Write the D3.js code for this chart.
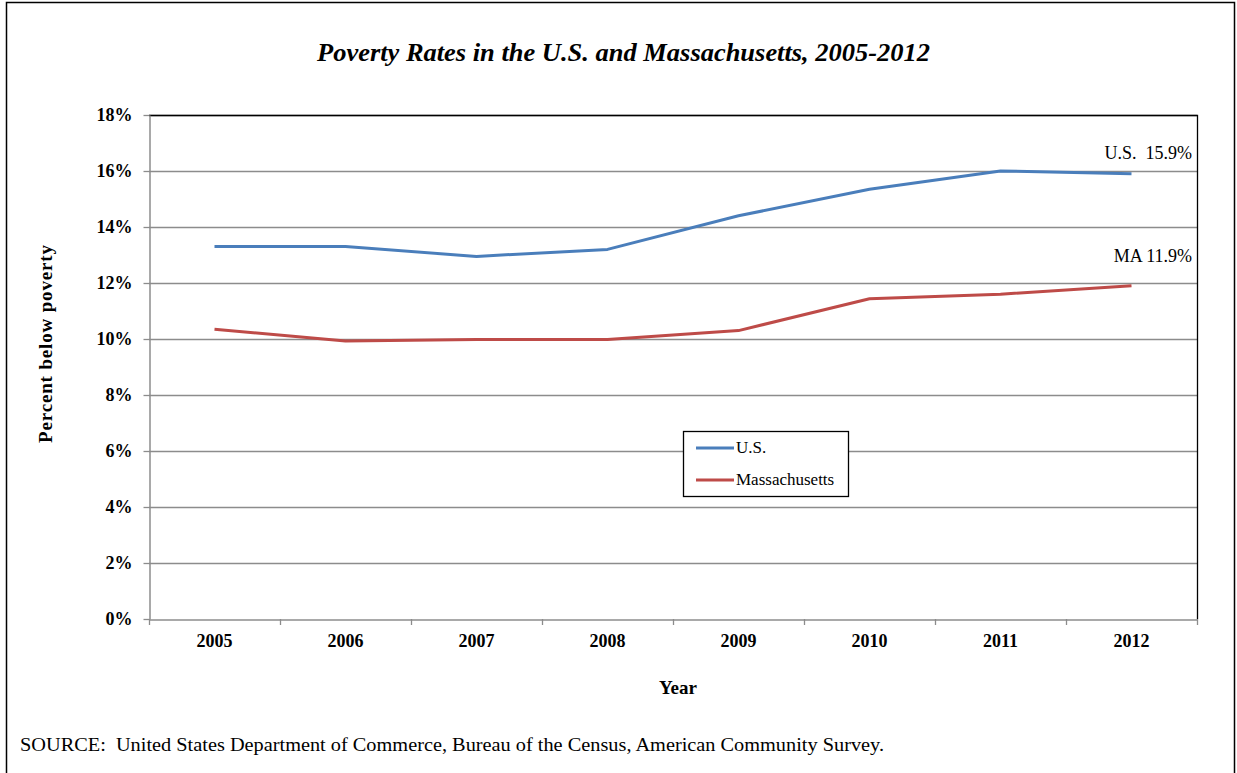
<!DOCTYPE html>
<html>
<head>
<meta charset="utf-8">
<script src="https://cdn.jsdelivr.net/npm/d3@7"></script>
<style>
  html, body { margin: 0; padding: 0; background: #fff; }
  svg { display: block; }
  text { font-family: "Liberation Serif", "Times New Roman", serif; fill: #000; }
</style>
</head>
<body>
<script>
const years = ["2005", "2006", "2007", "2008", "2009", "2010", "2011", "2012"];
const usValues = [13.3, 13.3, 12.95, 13.2, 14.4, 15.35, 16.0, 15.9];
const maValues = [10.35, 9.93, 9.98, 9.98, 10.3, 11.44, 11.6, 11.9];
const yTicks = [0, 2, 4, 6, 8, 10, 12, 14, 16, 18];
const seriesNames = ["U.S.", "Massachusetts"];
const seriesColors = ["#4a7ebb", "#be4b48"];
const endLabels = ["U.S.  15.9%", "MA 11.9%"];

const W = 1237, H = 773;
const plot = { left: 149, right: 1197, top: 115, bottom: 619 };

const svg = d3.select("body").append("svg").attr("width", W).attr("height", H);

// outer frame
svg.append("rect").attr("x", 6.5).attr("y", 2.5).attr("width", 1228).attr("height", 800)
  .attr("fill", "none").attr("stroke", "#000").attr("stroke-width", 1.5);

const x = d3.scaleBand().domain(years).range([plot.left, plot.right]);
const y = d3.scaleLinear().domain([0, 18]).range([plot.bottom, plot.top]);

// gridlines
svg.append("g").selectAll("line").data(yTicks.filter(d => d > 0)).join("line")
  .attr("x1", plot.left).attr("x2", plot.right)
  .attr("y1", d => y(d) + 0.5).attr("y2", d => y(d) + 0.5)
  .attr("stroke", "#8c8c8c").attr("stroke-width", 1.3);

// plot border top/right (black)
svg.append("path")
  .attr("d", `M${plot.left},${plot.top + 0.5}H${plot.right + 0.5}V${plot.bottom}`)
  .attr("fill", "none").attr("stroke", "#000").attr("stroke-width", 1.3);

// y axis
const yAxis = d3.axisLeft(y).tickValues(yTicks).tickFormat(d => d + "%").tickSize(6).tickSizeOuter(0).tickPadding(11);
const gy = svg.append("g").attr("transform", `translate(${plot.left + 0.5},0)`).call(yAxis);
gy.select(".domain").attr("stroke", "#8c8c8c").attr("stroke-width", 1.5);
gy.selectAll(".tick line").attr("stroke", "#8c8c8c").attr("stroke-width", 1.3);
gy.selectAll("text").attr("font-size", "18px").attr("font-weight", "bold")
  .attr("font-family", "Liberation Serif").attr("fill", "#000");

// x axis
const xAxis = d3.axisBottom(x).tickSize(0).tickPadding(15);
const gx = svg.append("g").attr("transform", `translate(0,${plot.bottom + 0.5})`).call(xAxis);
gx.select(".domain").attr("stroke", "#8c8c8c").attr("stroke-width", 1.5);
gx.selectAll("text").attr("font-size", "18px").attr("font-weight", "bold")
  .attr("font-family", "Liberation Serif").attr("fill", "#000");
// boundary tick marks
const bounds = years.map(d => x(d)).concat([x(years[years.length - 1]) + x.bandwidth()]);
svg.append("g").selectAll("line").data(bounds).join("line")
  .attr("x1", d => Math.round(d) + 0.5).attr("x2", d => Math.round(d) + 0.5)
  .attr("y1", plot.bottom).attr("y2", plot.bottom + 6)
  .attr("stroke", "#8c8c8c").attr("stroke-width", 1.3);

// lines
const line = d3.line().x((d, i) => x(years[i]) + x.bandwidth() / 2).y(d => y(d));
[usValues, maValues].forEach((vals, k) => {
  svg.append("path").datum(vals).attr("d", line)
    .attr("fill", "none").attr("stroke", seriesColors[k]).attr("stroke-width", 3)
    .attr("stroke-linejoin", "round");
});

// end labels
const lastX = plot.right - 5;
svg.append("text").attr("x", lastX).attr("y", y(usValues[7]) - 15).attr("text-anchor", "end")
  .attr("font-size", "18px").style("white-space", "pre").text(endLabels[0]);
svg.append("text").attr("x", lastX).attr("y", y(maValues[7]) - 24).attr("text-anchor", "end")
  .attr("font-size", "18px").text(endLabels[1]);

// legend
const lg = svg.append("g").attr("transform", "translate(683,431)");
lg.append("rect").attr("x", 0.5).attr("y", 0.5).attr("width", 165).attr("height", 65)
  .attr("fill", "#fff").attr("stroke", "#000").attr("stroke-width", 1.3);
seriesNames.forEach((n, i) => {
  const yy = 17 + i * 32;
  lg.append("line").attr("x1", 13).attr("x2", 51).attr("y1", yy).attr("y2", yy)
    .attr("stroke", seriesColors[i]).attr("stroke-width", 3);
  lg.append("text").attr("x", 53).attr("y", yy + 5).attr("font-size", "17px").text(n);
});

// title
svg.append("text").attr("x", 623.5).attr("y", 61).attr("text-anchor", "middle")
  .attr("font-size", "26px").attr("font-weight", "bold").attr("font-style", "italic")
  .attr("textLength", 613).attr("lengthAdjust", "spacingAndGlyphs")
  .text("Poverty Rates in the U.S. and Massachusetts, 2005-2012");

// axis titles
svg.append("text").attr("transform", `translate(52,344) rotate(-90)`)
  .attr("text-anchor", "middle").attr("font-size", "19px").attr("font-weight", "bold")
  .attr("textLength", 198).attr("lengthAdjust", "spacing")
  .text("Percent below poverty");
svg.append("text").attr("x", 678).attr("y", 694).attr("text-anchor", "middle")
  .attr("font-size", "19px").attr("font-weight", "bold").text("Year");

// source
svg.append("text").attr("x", 20).attr("y", 751).attr("font-size", "18px")
  .attr("textLength", 864).attr("lengthAdjust", "spacingAndGlyphs")
  .text("SOURCE:  United States Department of Commerce, Bureau of the Census, American Community Survey.")
  .style("white-space", "pre");
</script>
</body>
</html>
